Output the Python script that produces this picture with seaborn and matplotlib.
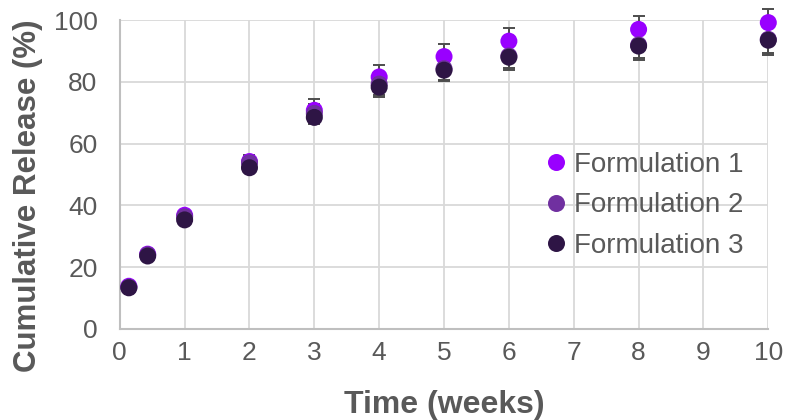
import matplotlib

matplotlib.use("Agg")
import matplotlib.pyplot as plt
import pandas as pd
import seaborn as sns

# Release data
time_weeks = [0.14, 0.43, 1, 2, 3, 4, 5, 6, 8, 10]
release_f1 = [13.8, 24.2, 36.8, 54.2, 70.8, 81.6, 88.2, 93.2, 97.0, 99.2]
release_f2 = [13.5, 24.0, 36.3, 53.8, 69.8, 79.3, 84.3, 88.4, 92.0, 93.8]
release_f3 = [13.3, 23.6, 35.3, 52.2, 68.5, 78.3, 83.8, 88.0, 91.6, 93.5]
err_f1 = [0.8, 0.8, 1.5, 2.2, 3.5, 3.8, 4.0, 4.3, 4.3, 4.4]
err_f2 = [0.7, 0.8, 1.3, 2.0, 3.0, 3.5, 3.6, 4.0, 4.3, 4.6]
err_f3 = [0.6, 0.7, 1.2, 1.5, 2.2, 3.3, 3.5, 4.1, 4.6, 4.8]
formulations = ["Formulation 1", "Formulation 2", "Formulation 3"]
colors = ["#9900ff", "#7030a0", "#2e1545"]

TEXT = "#595959"

frames = []
for name, vals, errs in zip(formulations, [release_f1, release_f2, release_f3], [err_f1, err_f2, err_f3]):
    frames.append(pd.DataFrame({"time": time_weeks, "release": vals, "err": errs, "formulation": name}))
df = pd.concat(frames, ignore_index=True)

sns.set_style("white")
plt.rcParams["font.family"] = ["Liberation Sans", "DejaVu Sans"]

fig, ax = plt.subplots(figsize=(7.88, 4.2), dpi=100)
fig.subplots_adjust(left=0.152, right=0.975, bottom=0.217, top=0.952)

# error bars behind the markers
for name in formulations:
    sub = df[df["formulation"] == name]
    ax.errorbar(sub["time"], sub["release"], yerr=sub["err"], fmt="none",
                ecolor="#4d4d4d", elinewidth=1.4, capsize=4.5, capthick=1.4,
                zorder=2, clip_on=False)

sns.scatterplot(data=df, x="time", y="release", hue="formulation",
                palette=colors, s=150, linewidth=0, ax=ax, zorder=3,
                clip_on=False)

ax.set_xlim(0, 10)
ax.set_ylim(0, 100)
ax.set_xticks(range(0, 11))
ax.set_yticks(range(0, 101, 20))
ax.grid(True, color="#d9d9d9", linewidth=1.3)
ax.set_axisbelow(True)

for side in ["top", "right"]:
    ax.spines[side].set_visible(False)
for side in ["left", "bottom"]:
    ax.spines[side].set_color("#bfbfbf")
    ax.spines[side].set_linewidth(1.5)

ax.tick_params(axis="both", length=0, labelsize=19, labelcolor=TEXT)
ax.tick_params(axis="x", pad=9)
ax.tick_params(axis="y", pad=16)

ax.set_xlabel("Time (weeks)", fontsize=23, fontweight="bold", color=TEXT, labelpad=18)
ax.set_ylabel("Cumulative Release (%)", fontsize=22.5, fontweight="bold", color=TEXT)
ax.yaxis.set_label_coords(-0.118, 0.43)

leg = ax.legend(loc="center left", bbox_to_anchor=(0.655, 0.40), frameon=False,
                fontsize=20, labelcolor=TEXT, handlelength=0.8, handletextpad=0.25,
                labelspacing=0.52, borderaxespad=0, borderpad=0)
leg.set_title(None)

fig.savefig("out.png", dpi=100)
